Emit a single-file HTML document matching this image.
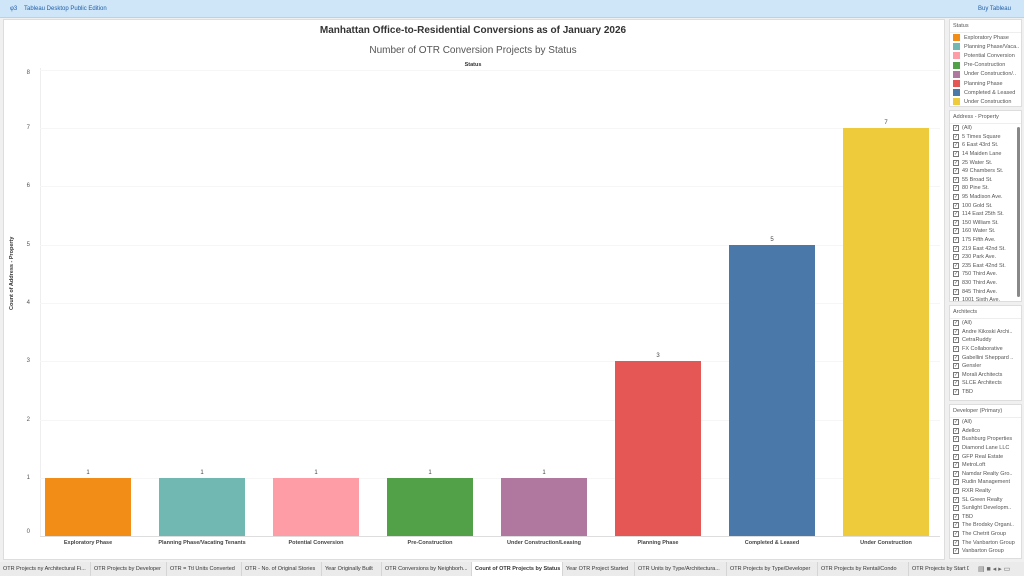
<!DOCTYPE html>
<html><head><meta charset="utf-8"><style>
*{margin:0;padding:0;box-sizing:border-box}
body{width:1024px;height:576px;overflow:hidden;background:#f0f0f0;font-family:"Liberation Sans",sans-serif;position:relative;color:#333}
.a{position:absolute}
.top{left:0;top:0;width:1024px;height:18px;background:#cfe6f9;border-bottom:1px solid #b8d2ea;font-size:6px;color:#1f5fa8}
.main{left:3px;top:19px;width:942px;height:541px;background:#fff;border:1px solid #ddd}
.grid{left:40px;width:900px;height:1px;background:#f6f6f6}
.yl{left:20px;font-size:6px;color:#555;width:10px;text-align:right}
.bar{width:86px}
.vl{font-size:6px;color:#444;width:86px;text-align:center}
.xl{font-size:5.5px;font-weight:bold;color:#444;width:110px;text-align:center;top:540px}
.panel{left:949px;width:73px;background:#fff;border:1px solid #ddd;font-size:5.5px;color:#555}
.panel .h{padding:3px 3px;border-bottom:1px solid #eee;height:13px}
.lg{height:9.2px;padding-left:3px;display:flex;align-items:center}
.sw{width:7px;height:7px;margin-right:4px}
.cb{display:flex;align-items:center;height:8.6px;padding-left:3px;white-space:nowrap;overflow:hidden}
.cb i{display:inline-block;width:6px;height:6px;border:1px solid #777;margin-right:3px;font-style:normal;font-size:5px;line-height:5px;text-align:center}
.tabs{left:0;top:562px;width:1024px;height:14px;background:#ebebeb;font-size:5.5px;color:#333}
.tab{position:absolute;top:0;height:14px;line-height:14px;padding-left:3px;border-right:1px solid #d5d5d5;white-space:nowrap;overflow:hidden}
</style></head><body>
<div class="a top"><span class="a" style="left:10px;top:6px">φ3</span><span class="a" style="left:24px;top:6px">Tableau Desktop Public Edition</span><span class="a" style="left:978px;top:6px">Buy Tableau</span></div>
<div class="a main"></div>
<div class="a" style="left:0;top:25px;width:946px;text-align:center;font-size:10px;font-weight:bold;color:#333">Manhattan Office-to-Residential Conversions as of January 2026</div>
<div class="a" style="left:0;top:45px;width:946px;text-align:center;font-size:10px;color:#555">Number of OTR Conversion Projects by Status</div>
<div class="a" style="left:0;top:62px;width:946px;text-align:center;font-size:5.5px;font-weight:bold;color:#333">Status</div>
<div class="a" style="left:9px;top:310px;font-size:5.5px;font-weight:bold;transform:rotate(-90deg);transform-origin:left top;white-space:nowrap">Count of Address - Property</div>
<div class="a" style="left:40px;top:68px;width:1px;height:469px;background:#eee"></div>
<div class="a grid" style="top:70px"></div><div class="a grid" style="top:128px"></div><div class="a grid" style="top:186px"></div><div class="a grid" style="top:245px"></div><div class="a grid" style="top:303px"></div><div class="a grid" style="top:361px"></div><div class="a grid" style="top:420px"></div><div class="a grid" style="top:478px"></div><div class="a grid" style="top:536px;background:#ddd"></div>
<div class="a yl" style="top:70px">8</div><div class="a yl" style="top:125px">7</div><div class="a yl" style="top:183px">6</div><div class="a yl" style="top:242px">5</div><div class="a yl" style="top:300px">4</div><div class="a yl" style="top:358px">3</div><div class="a yl" style="top:417px">2</div><div class="a yl" style="top:475px">1</div><div class="a yl" style="top:529px">0</div>
<div class="a bar" style="left:45px;top:478px;height:58px;background:#f28e18"></div>
<div class="a bar" style="left:159px;top:478px;height:58px;background:#72b8b2"></div>
<div class="a bar" style="left:273px;top:478px;height:58px;background:#ff9da6"></div>
<div class="a bar" style="left:387px;top:478px;height:58px;background:#52a148"></div>
<div class="a bar" style="left:501px;top:478px;height:58px;background:#b0779f"></div>
<div class="a bar" style="left:615px;top:361px;height:175px;background:#e45755"></div>
<div class="a bar" style="left:729px;top:245px;height:291px;background:#4a78a8"></div>
<div class="a bar" style="left:843px;top:128px;height:408px;background:#eecb3a"></div>
<div class="a vl" style="left:45px;top:470px">1</div><div class="a vl" style="left:159px;top:470px">1</div><div class="a vl" style="left:273px;top:470px">1</div><div class="a vl" style="left:387px;top:470px">1</div><div class="a vl" style="left:501px;top:470px">1</div><div class="a vl" style="left:615px;top:353px">3</div><div class="a vl" style="left:729px;top:237px">5</div><div class="a vl" style="left:843px;top:120px">7</div>
<div class="a xl" style="left:33px">Exploratory Phase</div><div class="a xl" style="left:147px">Planning Phase/Vacating Tenants</div><div class="a xl" style="left:261px">Potential Conversion</div><div class="a xl" style="left:375px">Pre-Construction</div><div class="a xl" style="left:489px">Under Construction/Leasing</div><div class="a xl" style="left:603px">Planning Phase</div><div class="a xl" style="left:717px">Completed &amp; Leased</div><div class="a xl" style="left:831px">Under Construction</div>

<div class="a panel" style="top:19px;height:88px"><div class="h">Status</div>
<div class="lg"><span class="sw" style="background:#f28e18"></span>Exploratory Phase</div>
<div class="lg"><span class="sw" style="background:#72b8b2"></span>Planning Phase/Vaca..</div>
<div class="lg"><span class="sw" style="background:#ff9da6"></span>Potential Conversion</div>
<div class="lg"><span class="sw" style="background:#52a148"></span>Pre-Construction</div>
<div class="lg"><span class="sw" style="background:#b0779f"></span>Under Construction/..</div>
<div class="lg"><span class="sw" style="background:#e45755"></span>Planning Phase</div>
<div class="lg"><span class="sw" style="background:#4a78a8"></span>Completed &amp; Leased</div>
<div class="lg"><span class="sw" style="background:#eecb3a"></span>Under Construction</div></div>

<div class="a panel" style="top:110px;height:192px;overflow:hidden"><div class="h">Address - Property</div>
<div class="a" style="left:67px;top:16px;width:3px;height:170px;background:#888;border-radius:2px"></div>
<div class="cb"><i>✓</i>(All)</div><div class="cb"><i>✓</i>5 Times Square</div><div class="cb"><i>✓</i>6 East 43rd St.</div><div class="cb"><i>✓</i>14 Maiden Lane</div><div class="cb"><i>✓</i>25 Water St.</div><div class="cb"><i>✓</i>49 Chambers St.</div><div class="cb"><i>✓</i>55 Broad St.</div><div class="cb"><i>✓</i>80 Pine St.</div><div class="cb"><i>✓</i>95 Madison Ave.</div><div class="cb"><i>✓</i>100 Gold St.</div><div class="cb"><i>✓</i>114 East 25th St.</div><div class="cb"><i>✓</i>150 William St.</div><div class="cb"><i>✓</i>160 Water St.</div><div class="cb"><i>✓</i>175 Fifth Ave.</div><div class="cb"><i>✓</i>219 East 42nd St.</div><div class="cb"><i>✓</i>230 Park Ave.</div><div class="cb"><i>✓</i>235 East 42nd St.</div><div class="cb"><i>✓</i>750 Third Ave.</div><div class="cb"><i>✓</i>830 Third Ave.</div><div class="cb"><i>✓</i>845 Third Ave.</div><div class="cb"><i>✓</i>1001 Sixth Ave.</div></div>

<div class="a panel" style="top:305px;height:96px"><div class="h">Architects</div>
<div class="cb"><i>✓</i>(All)</div><div class="cb"><i>✓</i>Andre Kikoski Archi..</div><div class="cb"><i>✓</i>CetraRuddy</div><div class="cb"><i>✓</i>FX Collaborative</div><div class="cb"><i>✓</i>Gabellini Sheppard ..</div><div class="cb"><i>✓</i>Gensler</div><div class="cb"><i>✓</i>Morali Architects</div><div class="cb"><i>✓</i>SLCE Architects</div><div class="cb"><i>✓</i>TBD</div></div>

<div class="a panel" style="top:404px;height:155px"><div class="h">Developer (Primary)</div>
<div class="cb"><i>✓</i>(All)</div><div class="cb"><i>✓</i>Adellco</div><div class="cb"><i>✓</i>Bushburg Properties</div><div class="cb"><i>✓</i>Diamond Lane LLC</div><div class="cb"><i>✓</i>GFP Real Estate</div><div class="cb"><i>✓</i>MetroLoft</div><div class="cb"><i>✓</i>Namdar Realty Gro..</div><div class="cb"><i>✓</i>Rudin Management</div><div class="cb"><i>✓</i>RXR Realty</div><div class="cb"><i>✓</i>SL Green Realty</div><div class="cb"><i>✓</i>Sunlight Developm..</div><div class="cb"><i>✓</i>TBD</div><div class="cb"><i>✓</i>The Brodsky Organi..</div><div class="cb"><i>✓</i>The Chetrit Group</div><div class="cb"><i>✓</i>The Vanbarton Group</div><div class="cb"><i>✓</i>Vanbarton Group</div></div>

<div class="a tabs">
<div class="tab" style="left:0;width:91px">OTR Projects ny Architectural Fi...</div>
<div class="tab" style="left:91px;width:76px">OTR Projects by Developer</div>
<div class="tab" style="left:167px;width:75px">OTR = Ttl Units Converted</div>
<div class="tab" style="left:242px;width:80px">OTR - No. of Original Stories</div>
<div class="tab" style="left:322px;width:60px">Year Originally Built</div>
<div class="tab" style="left:382px;width:90px">OTR Conversions by Neighborh...</div>
<div class="tab" style="left:472px;width:91px;background:#fff;font-weight:bold">Count of OTR Projects by Status</div>
<div class="tab" style="left:563px;width:72px">Year OTR Project Started</div>
<div class="tab" style="left:635px;width:92px">OTR Units by Type/Architectura...</div>
<div class="tab" style="left:727px;width:91px">OTR Projects by Type/Developer</div>
<div class="tab" style="left:818px;width:91px">OTR Projects by Rental/Condo</div>
<div class="tab" style="left:909px;width:60px;border:none">OTR Projects by Start Da</div>
<span class="a" style="left:978px;top:3px;font-size:7px;color:#666">▤ ■ ◂ ▸ ▭</span>
</div>
</body></html>
